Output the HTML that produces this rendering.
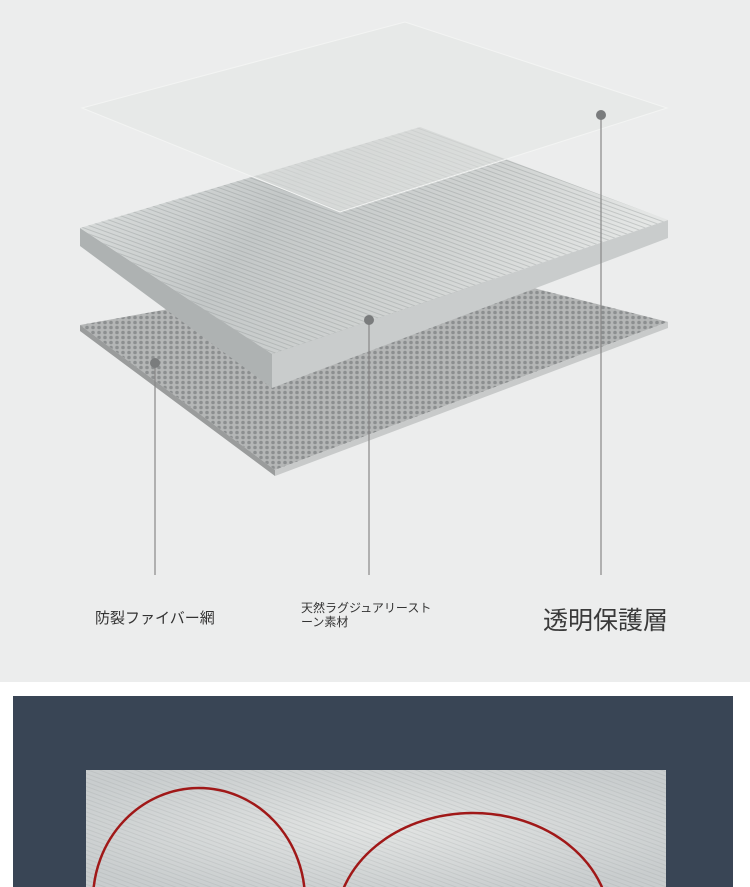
<!DOCTYPE html>
<html style="overflow:hidden"><head><meta charset="utf-8"><style>
html,body{margin:0;width:750px;height:887px;overflow:hidden;background:#fff;font-family:"Liberation Sans","Noto Sans CJK JP",sans-serif}
.top{position:absolute;left:0;top:0;width:750px;height:682px;background:#eceded}
.lab{position:absolute;color:#333}
</style></head><body>
<div class="top"></div>
<svg style="position:absolute;left:0;top:0;overflow:hidden" width="750" height="887" viewBox="0 0 750 887">
<defs>
<linearGradient id="st" x1="0" y1="0" x2="1" y2="0.3">
<stop offset="0" stop-color="#dfe2e1"/><stop offset="0.4" stop-color="#c4c8c8"/><stop offset="0.7" stop-color="#d0d3d2"/><stop offset="1" stop-color="#e4e6e5"/></linearGradient>
<pattern id="mesh" width="6" height="5" patternUnits="userSpaceOnUse"><rect width="6" height="5" fill="#b4b6b6"/><circle cx="3" cy="2.5" r="1.8" fill="#8c8f90"/></pattern>
<pattern id="grain" width="9" height="4" patternUnits="userSpaceOnUse" patternTransform="rotate(20)"><rect y="1" width="9" height="1" fill="#8a9090" opacity="0.35"/></pattern>
<radialGradient id="stone" cx="0.5" cy="0.5" r="0.6"><stop offset="0" stop-color="#e2e4e3"/><stop offset="1" stop-color="#c9cdce"/></radialGradient>
</defs>
<polygon points="80,325 430,262 668,322 275,470" fill="url(#mesh)"/>
<polygon points="80,325 275,470 275,476 80,331" fill="#9a9c9c"/>
<polygon points="275,470 668,322 668,328 275,476" fill="#c8caca"/>
<polygon points="80,228 272,354 272,388 80,246" fill="#aeb2b2"/>
<polygon points="272,354 668,220 668,238 272,388" fill="#c9cccc"/>
<polygon points="80,228 420,127 668,220 272,354" fill="url(#st)"/>
<polygon points="80,228 420,127 668,220 272,354" fill="url(#grain)"/>
<polygon points="82,108 405,22 667,108 340,212" fill="#e3e6e4" opacity="0.55"/>
<polygon points="82,108 405,22 667,108 340,212" fill="none" stroke="#f3f4f3" stroke-width="1"/>
<g stroke="#888" stroke-width="1.2"><line x1="155" y1="363" x2="155" y2="575"/><line x1="369" y1="320" x2="369" y2="575"/><line x1="601" y1="115" x2="601" y2="575"/></g>
<g fill="#7a7c7d"><circle cx="155" cy="363" r="5"/><circle cx="369" cy="320" r="5"/><circle cx="601" cy="115" r="5"/></g>
<rect x="13" y="696" width="720" height="191" fill="#394555"/>
<rect x="86" y="770" width="580" height="117" fill="url(#stone)"/>
<rect x="86" y="770" width="580" height="117" fill="url(#grain)" opacity="0.5"/>
<ellipse cx="199" cy="900" rx="106" ry="112" fill="none" stroke="#a01818" stroke-width="2.5"/>
<ellipse cx="473" cy="925" rx="137" ry="112" fill="none" stroke="#a01818" stroke-width="2.5"/>
</svg>
<div class="lab" style="left:95px;top:607px;font-size:15px">防裂ファイバー網</div>
<div class="lab" style="left:301px;top:601px;font-size:12px;line-height:14px">天然ラグジュアリースト<br>ーン素材</div>
<div class="lab" style="left:543px;top:601px;font-size:25px;color:#3a3a3a">透明保護層</div>
</body></html>
